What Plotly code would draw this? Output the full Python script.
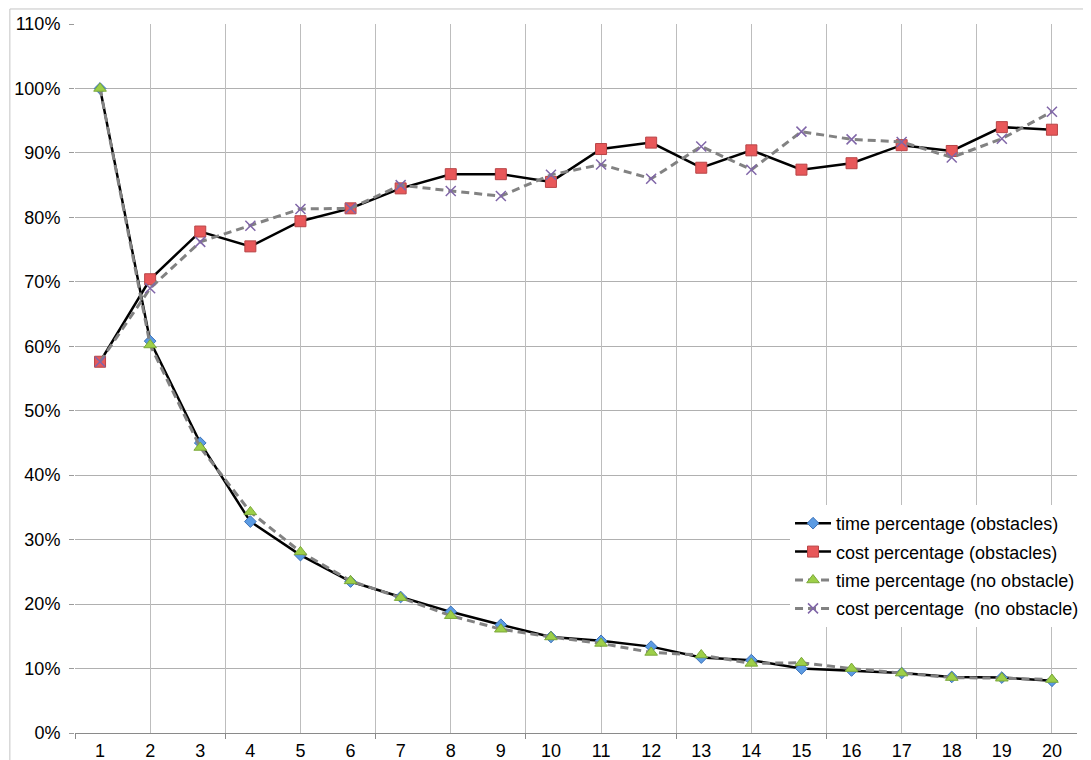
import plotly.graph_objects as go

categories = list(range(1, 21))
tick_labels = [str(c) for c in categories]

time_obstacles = [1.000, 0.608, 0.450, 0.328, 0.276, 0.235, 0.211, 0.188, 0.168, 0.149,
                  0.143, 0.134, 0.117, 0.113, 0.100, 0.097, 0.093, 0.087, 0.086, 0.081]
cost_obstacles = [0.576, 0.704, 0.778, 0.755, 0.794, 0.814, 0.845, 0.867, 0.867, 0.855,
                  0.906, 0.916, 0.877, 0.904, 0.874, 0.884, 0.912, 0.903, 0.940, 0.936]
time_no_obstacle = [1.000, 0.602, 0.443, 0.343, 0.281, 0.236, 0.210, 0.182, 0.161, 0.149,
                    0.139, 0.125, 0.121, 0.108, 0.109, 0.100, 0.093, 0.086, 0.085, 0.083]
cost_no_obstacle = [0.576, 0.690, 0.762, 0.787, 0.813, 0.814, 0.850, 0.841, 0.833, 0.866,
                    0.882, 0.860, 0.910, 0.874, 0.933, 0.921, 0.917, 0.893, 0.922, 0.964]

series_names = ["time percentage (obstacles)", "cost percentage (obstacles)",
                "time percentage (no obstacle)", "cost percentage  (no obstacle)"]

grid_positions = [0.5 + 1.5 * k for k in range(14)]
tick_mark_positions = [0.5 + 3 * k for k in range(7)]

FONT = "Liberation Sans, Arial, Helvetica, sans-serif"

fig = go.Figure()

fig.add_trace(go.Scatter(
    x=categories, y=time_obstacles, name=series_names[0], mode="lines+markers",
    line=dict(color="black", width=2.5),
    marker=dict(symbol="diamond", size=9, color="#5b9be3", line=dict(color="#3d72b8", width=1)),
    legendgroup="a"))
fig.add_trace(go.Scatter(
    x=categories, y=cost_obstacles, name=series_names[1], mode="lines+markers",
    line=dict(color="black", width=2.5),
    marker=dict(symbol="square", size=11, color="#e8585a", line=dict(color="#b84446", width=1)),
    legendgroup="b"))
fig.add_trace(go.Scatter(
    x=categories, y=time_no_obstacle, name=series_names[2], mode="lines+markers",
    line=dict(color="#828282", width=3, dash="8px,5px"),
    marker=dict(symbol="triangle-up", size=11, color="#9dcf48", line=dict(color="#7ba83a", width=1)),
    legendgroup="c"))
fig.add_trace(go.Scatter(
    x=categories, y=cost_no_obstacle, name=series_names[3], mode="lines+markers",
    line=dict(color="#828282", width=3, dash="8px,5px"),
    marker=dict(symbol="x-thin", size=10, color="#8066a8", line=dict(color="#8066a8", width=1.5)),
    legendgroup="d"))

# invisible trace to activate the overlay grid axis
fig.add_trace(go.Scatter(x=[0.5], y=[0], xaxis="x2", mode="markers",
                         marker=dict(opacity=0), showlegend=False, hoverinfo="skip"))

grid_color = "#bdbdbd"

fig.update_layout(
    width=1091, height=760,
    margin=dict(l=67, r=22, t=16, b=35, autoexpand=False),
    paper_bgcolor="white", plot_bgcolor="white",
    font=dict(family=FONT, size=18, color="black"),
    showlegend=True,
    legend=dict(x=0.7136, y=0.3216, xanchor="left", yanchor="top",
                bgcolor="white", borderwidth=0,
                font=dict(family=FONT, size=18, color="black"),
                tracegroupgap=2, itemwidth=36),
    xaxis=dict(range=[0.5, 20.5], tickvals=categories, ticktext=tick_labels,
               showgrid=False, zeroline=False, ticks="", ticklabelstandoff=1,
               showline=True, linecolor="#8a8a8a", linewidth=1, automargin=False,
               tickfont=dict(size=18)),
    xaxis2=dict(range=[0.5, 20.5], overlaying="x", side="bottom",
                tickvals=grid_positions, showticklabels=False, automargin=False,
                showgrid=True, gridcolor=grid_color, gridwidth=1,
                ticks="", zeroline=False, showline=False,
                minor=dict(tickvals=tick_mark_positions, ticks="outside",
                           ticklen=5, tickcolor="#8a8a8a", showgrid=False)),
    yaxis=dict(range=[0, 1.10], tickvals=[i / 10 for i in range(12)],
               tickformat=".0%", showgrid=True, gridcolor="#b0b0b0", gridwidth=1,
               zeroline=False, ticks="outside", ticklen=5, tickcolor="#9a9a9a",
               ticklabelstandoff=5, automargin=False,
               showline=False, tickfont=dict(size=18)),
    shapes=[
        dict(type="line", xref="paper", yref="paper", x0=-0.065, x1=1.1, y0=1.0212, y1=1.0212,
             line=dict(color="#c4c4c4", width=1)),
        dict(type="line", xref="paper", yref="paper", x0=-0.065, x1=-0.065, y0=-0.1, y1=1.0212,
             line=dict(color="#c4c4c4", width=1)),
    ],
)

fig.write_html("out.html")
